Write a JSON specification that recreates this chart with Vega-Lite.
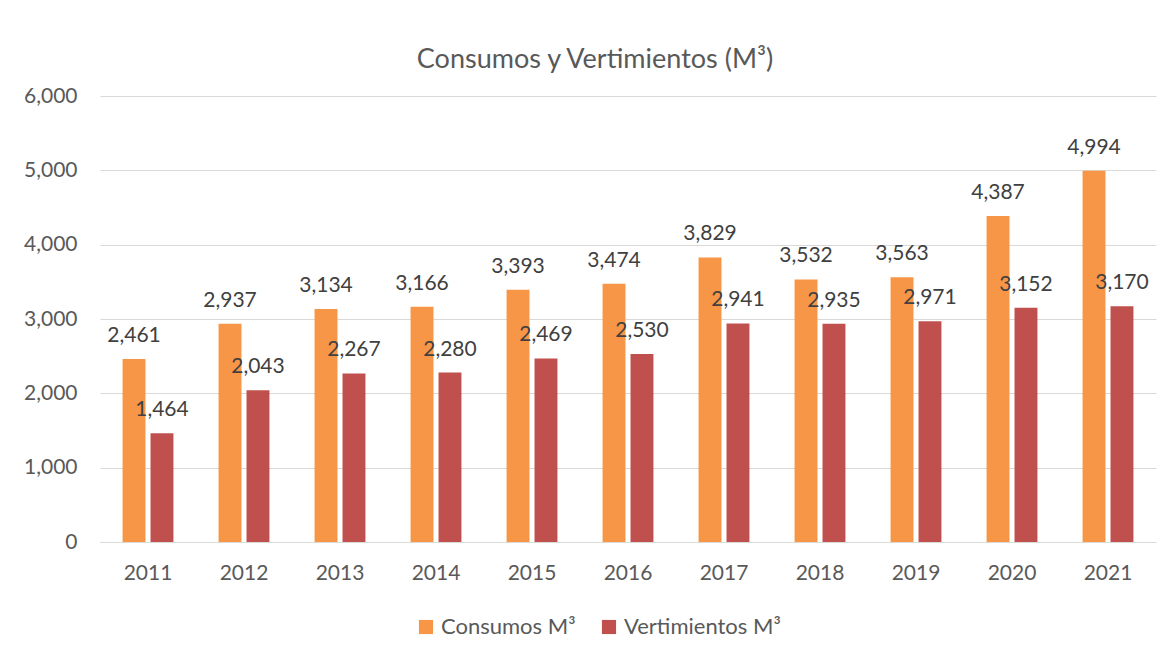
{
  "$schema": "https://vega.github.io/schema/vega-lite/v6.json",
  "width": 1056,
  "height": 446,
  "autosize": {"type": "none"},
  "padding": {"left": 100, "top": 96, "right": 18, "bottom": 120},
  "background": "white",
  "title": {"text": "Consumos y Vertimientos (M³)", "fontSize": 27, "font": "Lato", "fontWeight": "normal", "color": "#595959", "offset": 11, "dx": -33},
  "data": {"values": [
    {"year": "2011", "serie": "Consumos M³", "value": 2461},
    {"year": "2011", "serie": "Vertimientos M³", "value": 1464},
    {"year": "2012", "serie": "Consumos M³", "value": 2937},
    {"year": "2012", "serie": "Vertimientos M³", "value": 2043},
    {"year": "2013", "serie": "Consumos M³", "value": 3134},
    {"year": "2013", "serie": "Vertimientos M³", "value": 2267},
    {"year": "2014", "serie": "Consumos M³", "value": 3166},
    {"year": "2014", "serie": "Vertimientos M³", "value": 2280},
    {"year": "2015", "serie": "Consumos M³", "value": 3393},
    {"year": "2015", "serie": "Vertimientos M³", "value": 2469},
    {"year": "2016", "serie": "Consumos M³", "value": 3474},
    {"year": "2016", "serie": "Vertimientos M³", "value": 2530},
    {"year": "2017", "serie": "Consumos M³", "value": 3829},
    {"year": "2017", "serie": "Vertimientos M³", "value": 2941},
    {"year": "2018", "serie": "Consumos M³", "value": 3532},
    {"year": "2018", "serie": "Vertimientos M³", "value": 2935},
    {"year": "2019", "serie": "Consumos M³", "value": 3563},
    {"year": "2019", "serie": "Vertimientos M³", "value": 2971},
    {"year": "2020", "serie": "Consumos M³", "value": 4387},
    {"year": "2020", "serie": "Vertimientos M³", "value": 3152},
    {"year": "2021", "serie": "Consumos M³", "value": 4994},
    {"year": "2021", "serie": "Vertimientos M³", "value": 3170}
  ]},
  "encoding": {
    "x": {"field": "year", "type": "nominal", "title": null,
      "scale": {"paddingInner": 0.47, "paddingOuter": 0.235},
      "axis": {"labelAngle": 0, "ticks": false, "domainColor": "#D9D9D9", "domainWidth": 1, "labelPadding": 20}},
    "xOffset": {"field": "serie", "type": "nominal", "scale": {"paddingInner": 0.18}},
    "y": {"field": "value", "type": "quantitative", "title": null,
      "scale": {"domain": [0, 6000], "nice": false},
      "axis": {"values": [0, 1000, 2000, 3000, 4000, 5000, 6000], "format": ",.0f", "ticks": false, "domain": false, "labelPadding": 23, "gridColor": "#D9D9D9", "gridWidth": 1}}
  },
  "layer": [
    {
      "mark": {"type": "bar"},
      "encoding": {
        "color": {"field": "serie", "type": "nominal", "title": null,
          "scale": {"domain": ["Consumos M³", "Vertimientos M³"], "range": ["#F79646", "#C0504D"]},
          "legend": {"orient": "none", "legendX": 315, "legendY": 520, "direction": "horizontal", "symbolType": "square", "symbolSize": 200, "symbolStrokeWidth": 0, "labelFontSize": 22, "labelFont": "Lato", "labelColor": "#595959", "labelOffset": 4, "columnPadding": 22, "labelLimit": 300}}
      }
    },
    {
      "mark": {"type": "text", "baseline": "alphabetic", "dy": -17, "fontSize": 21, "font": "Lato", "color": "#404040"},
      "encoding": {
        "text": {"field": "value", "type": "quantitative", "format": ","}
      }
    }
  ],
  "config": {
    "view": {"stroke": null},
    "axis": {"labelFont": "Lato", "labelFontSize": 21, "labelColor": "#595959"}
  }
}
